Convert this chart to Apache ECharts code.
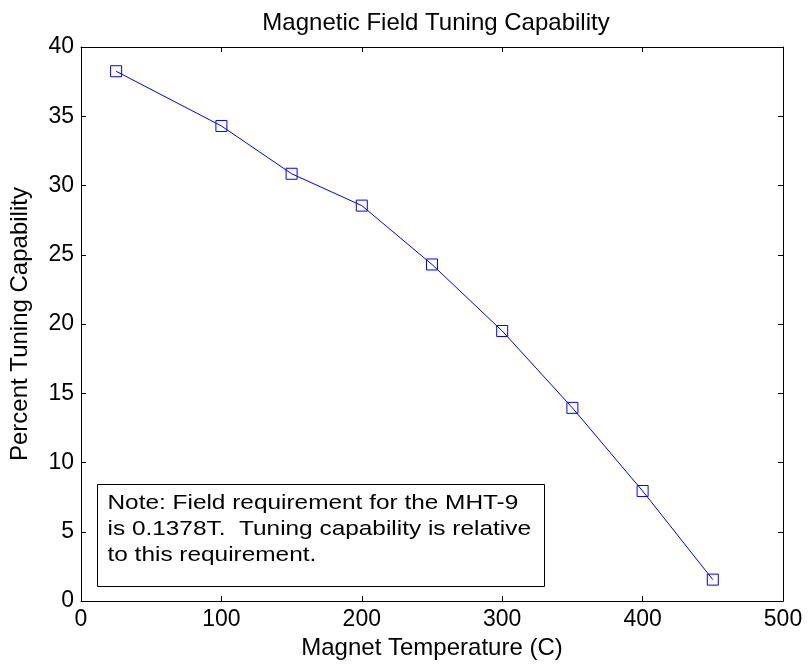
<!DOCTYPE html>
<html>
<head>
<meta charset="utf-8">
<script src="https://cdn.jsdelivr.net/npm/echarts@6/dist/echarts.min.js"></script>
<style>html,body{margin:0;padding:0;background:#fff}#c{width:808px;height:665px}</style>
</head>
<body>
<div id="c"></div>
<script>
const temperatures = [25, 100, 150, 200, 250, 300, 350, 400, 450];
const tuning = [38.25, 34.3, 30.85, 28.55, 24.3, 19.5, 13.95, 7.95, 1.55];
const xTicks = [0, 100, 200, 300, 400, 500];
const yTicks = [0, 5, 10, 15, 20, 25, 30, 35, 40];
const titleText = 'Magnetic Field Tuning Capability';
const xName = 'Magnet Temperature (C)';
const yName = 'Percent Tuning Capability';
const noteLines = ['Note: Field requirement for the MHT-9', 'is 0.1378T.  Tuning capability is relative', 'to this requirement.'];

const FONT = 'Liberation Sans, Arial, sans-serif';
const chart = echarts.init(document.getElementById('c'), null, {renderer: 'canvas'});
const axisLine = {show: true, onZero: false, lineStyle: {color: '#000', width: 1}};
const tick = {show: true, inside: true, length: 5, lineStyle: {color: '#000'}};
chart.setOption({
  animation: false,
  backgroundColor: '#fff',
  title: {text: titleText, left: 431, textAlign: 'center', top: 6, textStyle: {fontFamily: FONT, fontSize: 24, fontWeight: 'normal', color: '#000'}},
  grid: {left: 80, right: 25, top: 47, bottom: 63, containLabel: false},
  xAxis: [
    {type: 'value', min: 0, max: 500, interval: 100, position: 'bottom',
     name: xName, nameLocation: 'middle', nameGap: 32, nameTextStyle: {fontFamily: FONT, fontSize: 24, color: '#000'},
     axisLine, axisTick: tick, splitLine: {show: false},
     axisLabel: {fontFamily: FONT, fontSize: 23, color: '#000', margin: 7,
       formatter: v => xTicks.includes(v) ? String(v) : ''}},
    {type: 'value', min: 0, max: 500, interval: 100, position: 'top',
     axisLine, axisTick: tick, splitLine: {show: false}, axisLabel: {show: false}}
  ],
  yAxis: [
    {type: 'value', min: 0, max: 40, interval: 5, position: 'left',
     name: yName, nameLocation: 'middle', nameGap: 49, nameTextStyle: {fontFamily: FONT, fontSize: 24, color: '#000'},
     axisLine, axisTick: tick, splitLine: {show: false},
     axisLabel: {fontFamily: FONT, fontSize: 23, color: '#000', margin: 7,
       formatter: v => yTicks.includes(v) ? String(v) : ''}},
    {type: 'value', min: 0, max: 40, interval: 5, position: 'right',
     axisLine, axisTick: tick, splitLine: {show: false}, axisLabel: {show: false}}
  ],
  series: [{
    type: 'line',
    data: temperatures.map((t, i) => [t, tuning[i]]),
    symbol: 'rect', symbolSize: 11, showSymbol: true,
    lineStyle: {color: '#0000ff', width: 1},
    itemStyle: {color: 'rgba(0,0,0,0)', borderColor: '#0000ff', borderWidth: 1},
    emphasis: {disabled: true}
  }],
  graphic: [{
    type: 'group', left: 97, top: 484,
    children: [
      {type: 'rect', shape: {x: 0, y: 0, width: 447, height: 102}, style: {fill: '#fff', stroke: '#000', lineWidth: 1}},
      {type: 'text', x: 10, y: 6, scaleY: 0.82, style: {text: noteLines.join('\n'), fontFamily: FONT, fontSize: 24.4, lineHeight: 31.7, fill: '#000'}}
    ]
  }]
});
</script>
</body>
</html>
